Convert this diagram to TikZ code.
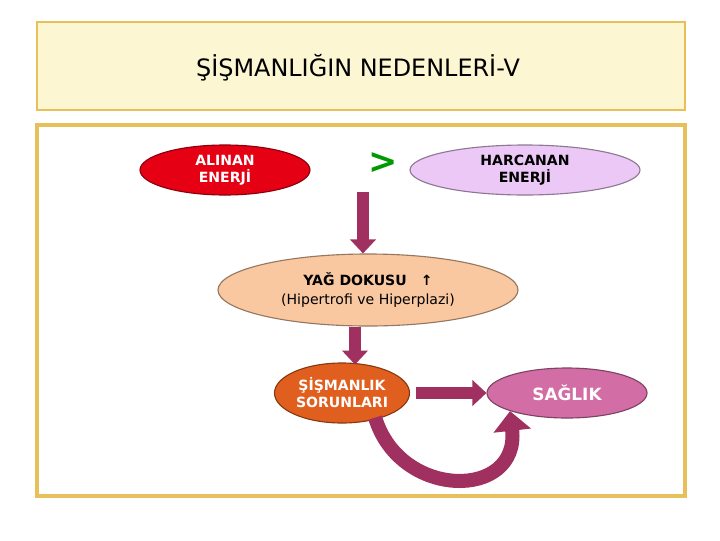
\documentclass[tikz,border=0pt]{standalone}
\usepackage{fontspec}
\setmainfont{DejaVu Sans}
\usetikzlibrary{positioning,arrows.meta,shapes.geometric}
\definecolor{gold}{RGB}{232,192,90}
\definecolor{titlebg}{RGB}{252,246,210}
\definecolor{plum}{RGB}{160,48,96}
\definecolor{redfill}{RGB}{230,0,20}
\definecolor{lavender}{RGB}{236,200,246}
\definecolor{peach}{RGB}{250,200,160}
\definecolor{orng}{RGB}{225,95,30}
\definecolor{pinkish}{RGB}{210,110,165}
\tikzset{
  blob/.style={ellipse, draw=#1!60!black, thick, inner sep=0pt, align=center, font=\bfseries\normalsize},
  fatarrow/.style={line width=8pt, draw=plum, -{Triangle[length=10pt,width=18pt]}},
}
\begin{document}
\begin{tikzpicture}[x=0.025cm,y=-0.025cm]
        \useasboundingbox (0,0) rectangle (720,540);
        \fill[white] (0,0) rectangle (720,540);
        % title box
        \filldraw[draw=gold, fill=titlebg, thick] (37,22) rectangle (685,110);
        \node[font=\fontsize{17}{20}\selectfont] (title) at (358,68) {ŞİŞMANLIĞIN NEDENLERİ-V};
        \draw[draw=gold, line width=3pt] (37,125) rectangle (685,496);

        \node[blob=redfill, fill=redfill, text=white, minimum width=170*0.025cm, minimum height=50*0.025cm] (alinan) at (225,170) {ALINAN\\ENERJİ};
        \node[text=green!60!black, font=\bfseries\Huge] (gt) at (383,163) {>};
        \node[blob=lavender, fill=lavender, minimum width=230*0.025cm, minimum height=50*0.025cm] (harcanan) at (525,170) {HARCANAN\\ENERJİ};
        \coordinate (top1) at (363,192);

        \node[blob=peach, fill=peach, minimum width=300*0.025cm, minimum height=72*0.025cm, font=\normalsize] (yag) at (368,290) {\bfseries YAĞ DOKUSU\quad ↑\\[2pt](Hipertrofi ve Hiperplazi)};
        \node[blob=orng, fill=orng, text=white, minimum width=135*0.025cm, minimum height=60*0.025cm] (sorun) at (342,393) {ŞİŞMANLIK\\SORUNLARI};
        \node[blob=pinkish, fill=pinkish, text=white, minimum width=160*0.025cm, minimum height=50*0.025cm, font=\bfseries\large] (saglik) at (567,393) {SAĞLIK};

        \draw[fatarrow] (top1) -- (top1 |- yag.north);
        \draw[fatarrow] (yag.south -| sorun.north) ++(13,0) -- ++(0,38);
        \draw[fatarrow] (sorun.east) ++(6,0) -- (saglik.west);
        \draw[line width=10pt, draw=plum, -{Triangle[length=14pt,width=26pt]}] (sorun.south east) ++(-15,3) .. controls (400,500) and (520,500) .. (saglik.south west);
\end{tikzpicture}
\end{document}
